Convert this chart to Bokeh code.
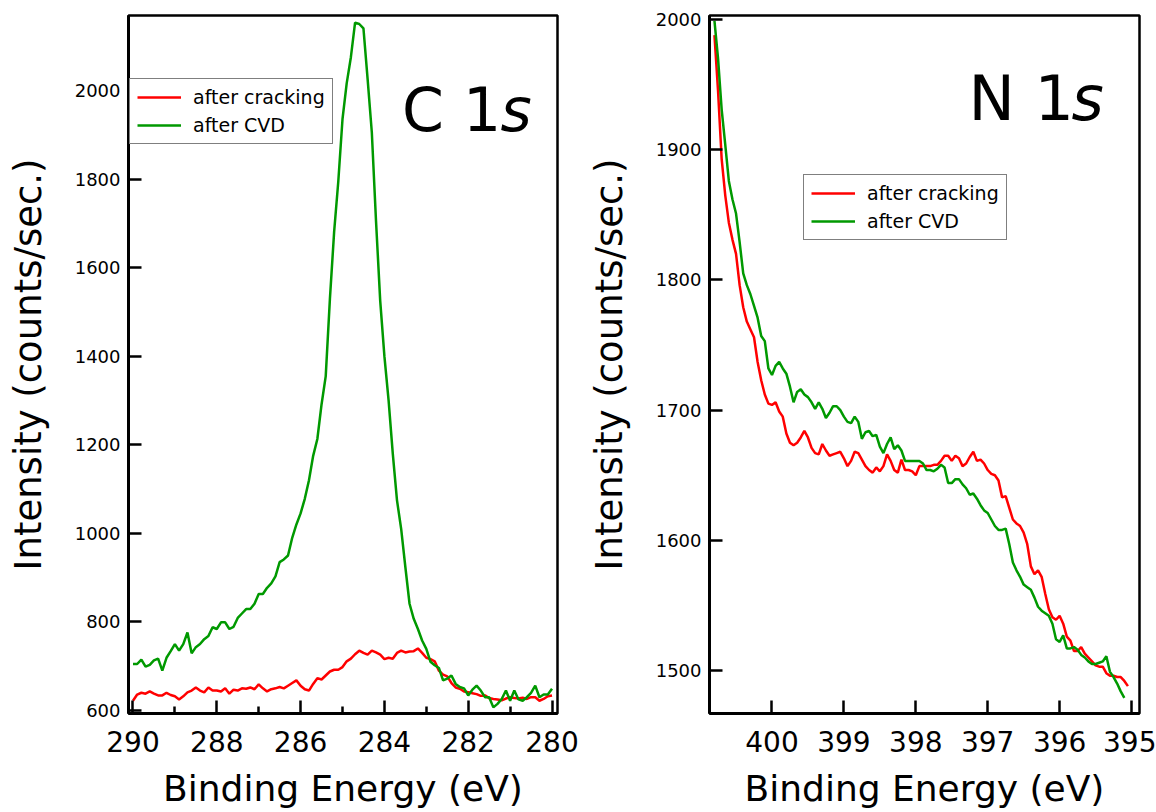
from bokeh.plotting import figure
from bokeh.models import Range1d, FixedTicker, Legend, LegendItem, Label
from bokeh.layouts import row
from bokeh.embed import file_html
from bokeh.resources import INLINE

FONT = "DejaVu Sans"
RED = "#ff0000"
GREEN = "#009900"

# ---------------- C 1s (binding energy 290.0 -> 280.0 eV, 0.1 eV steps) ----------------
c1s_cracking = [
    622, 636, 640, 638, 643, 638, 634, 634, 640, 635,
    632, 625, 632, 641, 645, 652, 645, 641, 652, 645,
    645, 643, 650, 638, 647, 645, 650, 649, 652, 648,
    659, 650, 643, 648, 650, 653, 650, 656, 662, 668,
    656, 648, 645, 660, 673, 670, 679, 688, 692, 692,
    698, 711, 717, 727, 735, 730, 726, 735, 731, 726,
    716, 719, 717, 730, 735, 731, 733, 734, 740, 730,
    719, 716, 711, 690, 681, 677, 662, 652, 649, 643,
    641, 639, 637, 633, 634, 628, 626, 625, 623, 627,
    630, 628, 627, 629, 626, 630, 630, 622, 626, 632,
    634,
]
c1s_cvd = [
    705, 705, 715, 699, 703, 713, 717, 690, 719, 734,
    750, 735, 750, 776, 729, 743, 750, 761, 768, 788,
    784, 799, 799, 784, 789, 809, 819, 829, 829, 841,
    863, 863, 877, 887, 903, 935, 941, 950, 990, 1020,
    1045, 1078, 1120, 1175, 1213, 1291, 1355, 1530, 1680, 1795,
    1935, 2016, 2075, 2153, 2150, 2140, 2025, 1905, 1705, 1525,
    1400, 1300, 1180, 1075, 1010, 924, 841, 807, 784, 758,
    739, 710, 702, 696, 668, 672, 679, 660, 653, 650,
    634, 647, 656, 645, 630, 630, 607, 615, 626, 645,
    622, 645, 625, 622, 630, 640, 656, 630, 636, 636,
    649,
]
c1s_energy = [round(290.0 - 0.1 * i, 2) for i in range(len(c1s_cracking))]

c1s_xticks = [290, 288, 286, 284, 282, 280]
c1s_xminor = [289, 287, 285, 283, 281]
c1s_yticks = [600, 800, 1000, 1200, 1400, 1600, 1800, 2000]

# ---------------- N 1s (binding energy 400.80 -> 395.05 eV, 0.05 eV steps) ----------------
n1s_cracking = [
    1988, 1945, 1893, 1865, 1844, 1831, 1820, 1796, 1779, 1768,
    1762, 1756, 1737, 1723, 1712, 1705, 1704, 1706, 1699, 1695,
    1682, 1675, 1673, 1675, 1679, 1684, 1679, 1671, 1667, 1666,
    1674, 1669, 1665, 1666, 1667, 1668, 1663, 1657, 1661, 1668,
    1667, 1662, 1657, 1654, 1652, 1656, 1653, 1657, 1666, 1661,
    1654, 1652, 1662, 1654, 1654, 1653, 1650, 1657, 1657, 1657,
    1657, 1658, 1658, 1661, 1665, 1665, 1661, 1665, 1663, 1657,
    1659, 1664, 1668, 1661, 1662, 1659, 1654, 1651, 1650, 1646,
    1633, 1634, 1625, 1616, 1613, 1611, 1606, 1597, 1580, 1574,
    1577, 1572, 1559, 1547, 1541, 1539, 1542, 1536, 1526, 1523,
    1515, 1515, 1518, 1513, 1510, 1507, 1504, 1503, 1503, 1498,
    1496, 1496, 1495, 1495, 1492, 1488,
]
n1s_cvd = [
    1999, 1970, 1931, 1904, 1876, 1862, 1851, 1829, 1805, 1796,
    1789, 1780, 1771, 1757, 1753, 1732, 1727, 1734, 1737, 1732,
    1728, 1718, 1706, 1714, 1716, 1712, 1710, 1706, 1701, 1706,
    1701, 1694, 1698, 1703, 1703, 1700, 1695, 1691, 1690, 1695,
    1691, 1678, 1683, 1684, 1680, 1681, 1672, 1667, 1674, 1679,
    1670, 1673, 1669, 1661, 1661, 1661, 1661, 1661, 1659, 1654,
    1654, 1653, 1655, 1658, 1656, 1644, 1644, 1647, 1647, 1643,
    1640, 1635, 1636, 1632, 1627, 1623, 1621, 1616, 1611, 1608,
    1608, 1609, 1597, 1583, 1577, 1572, 1566, 1564, 1562, 1556,
    1549, 1546, 1544, 1542, 1536, 1524, 1522, 1527, 1517, 1517,
    1518, 1516, 1512, 1510, 1507, 1505, 1505, 1506, 1507, 1511,
    1499, 1495, 1490, 1484, 1479,
]
n1s_energy = [round(400.80 - 0.05 * i, 2) for i in range(len(n1s_cracking))]

n1s_xticks = [400, 399, 398, 397, 396, 395]
n1s_yticks = [1500, 1600, 1700, 1800, 1900, 2000]

series_labels = ["after cracking", "after CVD"]
x_title = "Binding Energy (eV)"
y_title = "Intensity (counts/sec.)"


def make_panel(width, xr, yr, min_left, min_right, xticks, xminor, yticks):
    p = figure(width=width, height=812, x_range=xr, y_range=yr,
               output_backend="svg", toolbar_location=None,
               min_border_left=min_left, min_border_right=min_right,
               min_border_top=15, min_border_bottom=99)
    p.xgrid.visible = False
    p.ygrid.visible = False
    p.outline_line_color = "black"
    p.outline_line_width = 2.5
    p.outline_line_alpha = 1.0
    p.background_fill_color = "white"
    p.border_fill_color = "white"
    p.xaxis.ticker = FixedTicker(ticks=xticks, minor_ticks=xminor)
    p.yaxis.ticker = FixedTicker(ticks=yticks, minor_ticks=[])
    for ax in (p.xaxis[0], p.yaxis[0]):
        ax.axis_line_color = "black"
        ax.axis_line_width = 3
        ax.major_tick_in = 13
        ax.major_tick_out = 0
        ax.minor_tick_in = 7
        ax.minor_tick_out = 0
        ax.major_tick_line_width = 2.5
        ax.minor_tick_line_width = 2.5
        ax.major_tick_line_color = "black"
        ax.minor_tick_line_color = "black"
        ax.major_label_text_font = FONT
        ax.major_label_text_color = "black"
        ax.axis_label_text_font = FONT
        ax.axis_label_text_font_style = "normal"
        ax.axis_label_text_color = "black"
    p.xaxis.axis_label = x_title
    p.yaxis.axis_label = y_title
    p.xaxis.axis_label_text_font_size = "36px"
    p.yaxis.axis_label_text_font_size = "37px"
    p.xaxis.major_label_text_font_size = "28px"
    p.xaxis.major_label_standoff = 17
    p.xaxis.axis_label_standoff = 13
    p.yaxis.major_label_text_font_size = "18px"
    p.yaxis.major_label_standoff = 8
    p.yaxis.axis_label_standoff = 22
    return p


def add_legend(p, renderers, loc):
    items = [LegendItem(label=series_labels[i], renderers=[renderers[i]]) for i in range(2)]
    lg = Legend(items=items, location=loc, orientation="vertical",
                border_line_color="black", border_line_width=1.5,
                background_fill_color="white", background_fill_alpha=1.0,
                label_text_font=FONT, label_text_font_size="19px",
                label_text_color="black",
                glyph_width=44, glyph_height=20, label_height=20,
                label_standoff=12, spacing=6, padding=7, margin=0)
    p.add_layout(lg)


def add_title(p, x_main, x_s, y, main, size):
    p.add_layout(Label(x=x_main, y=y, text=main, text_font=FONT, text_font_size=size,
                       text_baseline="alphabetic", text_align="left", text_color="black"))
    p.add_layout(Label(x=x_s, y=y, text="s", text_font=FONT, text_font_size=size,
                       text_font_style="italic",
                       text_baseline="alphabetic", text_align="left", text_color="black"))


# ---- left panel: C 1s ----
p1 = make_panel(580, Range1d(290.107, 279.869), Range1d(593.2, 2169.2), 128, 23,
                c1s_xticks, c1s_xminor, c1s_yticks)
r1a = p1.line(c1s_energy, c1s_cracking, line_color=RED, line_width=2.5)
r1b = p1.line(c1s_energy, c1s_cvd, line_color=GREEN, line_width=2.5)
add_legend(p1, [r1a, r1b], (1, 569))
add_title(p1, 283.578, 281.229, 1955, "C 1", "60px")

# ---- right panel: N 1s ----
p2 = make_panel(576, Range1d(400.869, 394.889), Range1d(1467.0, 2003.1), 129, 17,
                n1s_xticks, [], n1s_yticks)
r2a = p2.line(n1s_energy, n1s_cracking, line_color=RED, line_width=2.5)
r2b = p2.line(n1s_energy[:len(n1s_cvd)], n1s_cvd, line_color=GREEN, line_width=2.5)
add_legend(p2, [r2a, r2b], (94, 473))
add_title(p2, 397.267, 395.834, 1939, "N 1", "62px")

layout = row(p1, p2)
open("out.html", "w").write(file_html(layout, INLINE))
